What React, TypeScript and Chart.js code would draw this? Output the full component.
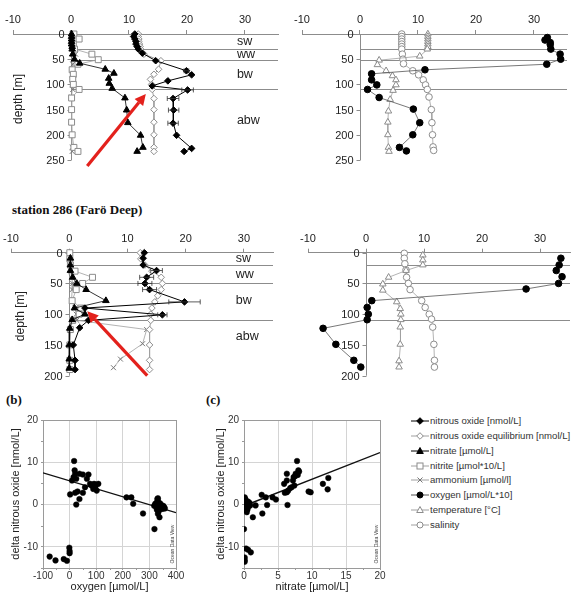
import React, { useEffect, useRef } from "react";
import { Chart, registerables } from "chart.js";
Chart.register(...registerables);

const FONT = "'Liberation Sans', Arial, Helvetica, sans-serif";
const SERIF = "'Liberation Serif', 'Times New Roman', serif";
Chart.defaults.font.family = FONT;
Chart.defaults.color = "#222";

// ---------- shared ticks ----------
const profileXTicks = [-10, 0, 10, 20, 30];
const depthTicksTop = [0, 50, 100, 150, 200, 250];
const depthTicksMid = [0, 50, 100, 150, 200];
const layersTop = [30, 52, 110];
const layersMid = [20, 50, 110];
const layerNames = ["sw", "ww", "bw", "abw"];
const layerLabelDepthTop = [15, 41, 81, 171];
const layerLabelDepthMid = [10, 36, 77, 136];

// ---------- panel 1 (top left) ----------
const p1N2oDepth = [0, 5, 10, 15, 20, 25, 30, 38, 53, 73, 81, 93, 103, 111, 128, 151, 177, 201, 227, 233];
const p1N2o = [11.0, 10.8, 11.0, 11.2, 11.2, 11.4, 11.6, 12.3, 14.6, 19.9, 20.8, 16.7, 14.0, 20.1, 17.6, 17.7, 17.6, 18.2, 20.8, 19.5];
const p1N2oErr = [0, 0, 0, 0, 0, 0, 0, 0, 0, 0.4, 0, 0, 0, 1.0, 1.0, 0.9, 0.9, 0, 0, 0];
const p1EqDepth = [0, 5, 10, 15, 20, 25, 30, 40, 53, 70, 80, 90, 100, 110, 128, 150, 175, 200, 225, 233];
const p1Eq = [11.6, 11.6, 11.7, 11.7, 11.8, 11.9, 12.0, 12.6, 15.5, 15.1, 14.3, 13.7, 13.9, 14.0, 14.3, 14.3, 14.3, 14.3, 14.3, 14.3];
const p1NitrateDepth = [0, 5, 10, 15, 20, 25, 30, 40, 50, 58, 70, 78, 88, 98, 108, 127, 151, 176, 201, 225, 233];
const p1Nitrate = [0.1, 0.1, 0.1, 0.1, 0.1, 0.2, 0.2, 0.3, 0.6, 1.5, 5.9, 7.4, 6.5, 6.6, 7.1, 9.3, 9.6, 9.8, 12.0, 12.4, 11.4];
const p1NitriteDepth = [0, 10, 20, 30, 40, 51, 60, 71, 80, 90, 100, 110, 127, 150, 175, 200, 225, 233];
const p1Nitrite = [0.5, 1.4, 0.4, 0.6, 3.6, 4.7, 1.2, 0.2, 0.4, 0.3, 0.4, 1.4, 0.1, 0.1, 0.1, 0.2, 0.5, 1.2];
const p1AmmoniumDepth = [0, 10, 20, 30, 40, 50, 60, 70, 80, 90, 100, 110, 125, 150, 175, 200, 225, 233];
const p1Ammonium = [0.2, 0.2, 0.2, 0.3, 0.8, 0.4, 0.3, 0.2, 0.2, 0.2, 0.2, 0.3, 0.1, 0.1, 0.1, 0.1, 0.2, 0.2];

// ---------- panel 2 (top right) ----------
const p2OxyDepth = [7, 12, 17, 21, 30, 40, 50, 60, 71, 79, 91, 101, 110, 126, 149, 176, 200, 225, 232];
const p2Oxy = [32.3, 31.9, 32.8, 32.8, 32.9, 34.5, 34.6, 32.2, 11.2, 2.0, 2.0, 2.9, 1.3, 3.3, 9.2, 10.3, 9.1, 6.8, 8.0];
const p2TempDepth = [0, 5, 10, 15, 20, 25, 30, 44, 52, 61, 73, 83, 91, 101, 112, 130, 153, 175, 200, 225, 233];
const p2Temp = [11.7, 11.7, 11.7, 11.7, 11.7, 11.7, 11.6, 10.3, 3.3, 3.0, 4.5, 5.6, 6.2, 6.2, 5.7, 5.2, 4.9, 4.8, 4.8, 4.9, 5.0];
const p2SalDepth = [0, 5, 10, 15, 20, 25, 30, 40, 50, 59, 73, 81, 91, 101, 110, 125, 150, 176, 200, 224, 231];
const p2Sal = [7.2, 7.2, 7.2, 7.2, 7.2, 7.2, 7.2, 7.3, 7.4, 7.5, 9.1, 10.1, 10.9, 11.3, 11.6, 11.9, 12.3, 12.4, 12.5, 12.6, 12.7];

// ---------- panel 3 (station 286, left) ----------
const p3N2oDepth = [0, 9, 20, 29, 40, 50, 60, 80, 90, 101, 110, 122, 150, 175, 190];
const p3N2o = [12.9, 12.7, 12.7, 15.0, 13.3, 13.0, 13.8, 19.8, 2.7, 16.0, 3.3, 1.8, 0.7, 1.0, 1.0];
const p3N2oErr = [0, 0, 0, 1.0, 1.2, 1.2, 1.2, 2.7, 0, 0.8, 0, 0, 0, 0, 0];
const p3EqDepth = [0, 10, 20, 30, 40, 50, 60, 70, 80, 90, 100, 110, 125, 150, 175, 190];
const p3Eq = [12.2, 12.3, 13.0, 14.2, 15.8, 16.0, 15.8, 15.2, 14.7, 14.2, 14.0, 14.0, 13.8, 13.8, 13.8, 13.8];
const p3NitrateDepth = [9, 20, 29, 40, 50, 60, 78, 90, 100, 109, 123, 150, 173, 188];
const p3Nitrate = [0.2, 0.2, 0.2, 0.6, 1.3, 2.9, 6.3, 0.9, 2.7, 0.5, 0.1, 0.0, 0.0, 0.0];
const p3NitriteDepth = [0, 10, 20, 30, 40, 50, 60, 78, 90, 100, 110, 125, 150, 175, 190];
const p3Nitrite = [0.1, 0.1, 0.2, 1.0, 4.0, 2.3, 1.2, 0.5, 2.0, 1.7, 0.6, 0.2, 0.1, 0.1, 0.1];
const p3AmmoniumDepth = [0, 10, 20, 30, 40, 50, 60, 78, 90, 100, 110, 125, 148, 173, 187];
const p3Ammonium = [0.2, 0.2, 0.2, 0.3, 0.4, 0.6, 0.5, 0.4, 1.0, 1.2, 1.3, 13.3, 12.6, 8.8, 7.6];

// ---------- panel 4 (station 286, right) ----------
const p4OxyDepth = [9, 20, 29, 39, 50, 59, 78, 89, 100, 109, 123, 149, 175, 186];
const p4Oxy = [33.6, 33.3, 32.8, 33.8, 33.2, 27.6, 1.0, 0.2, 0.4, 0.2, -7.4, -5.2, -2.1, -0.9];
const p4TempDepth = [4, 12, 20, 29, 40, 51, 61, 80, 91, 100, 109, 121, 149, 176, 186];
const p4Temp = [9.8, 9.8, 9.8, 6.9, 3.9, 2.9, 2.9, 5.3, 5.9, 6.0, 6.0, 5.9, 5.9, 5.7, 5.7];
const p4SalDepth = [1, 9, 18, 28, 40, 50, 60, 78, 89, 100, 108, 121, 149, 175, 186];
const p4Sal = [6.6, 6.6, 6.7, 6.9, 7.0, 7.3, 7.6, 9.6, 10.2, 10.9, 11.3, 11.5, 11.7, 11.8, 11.8];

// ---------- scatter (b): oxygen vs delta N2O ----------
const bOxygen = [17, 19, 21, 15, 9, 25, 37, 50, 71, 65, 77, 83, 92, 99, 108, 89, 102, 96, 58, 50, 30, 21, 2, 37, 25, 214, 232, 239, 276, 319, 332, 338, 332, -1, 0, 0, -75, -53, -22, -10,
  318, 322, 325, 328, 330, 332, 335, 338, 340, 342, 345, 348, 350, 355, 330, 328, 335, 345, 352, 358, 340];
const bDeltaN2o = [10.3, 8.1, 7.3, 6.5, 5.7, 6.1, 7.3, 7.1, 7.1, 6.1, 4.9, 4.5, 4.9, 4.7, 4.9, 3.7, 3.3, 4.1, 4.1, 2.8, 3.1, 2.8, 2.4, 1.3, 0.0, 1.7, 1.7, 0.2, -2.1, -5.8, 1.5, -3.0, -2.2, -10.2, -11.0, -11.5, -12.3, -13.2, -12.9, -13.3,
  -0.3, 0.2, -0.5, 0.5, -0.2, 0.8, 0.0, -0.8, 0.3, -0.4, -0.1, -0.7, -1.0, -0.6, 1.3, -1.2, -1.6, -1.0, -0.3, -0.9, -0.2];
const bRegX = [-100, 400];
const bRegY = [7.5, -1.9];

// ---------- scatter (c): nitrate vs delta N2O ----------
const cNitrate = [7.8, 8.0, 7.6, 7.5, 7.3, 7.2, 6.3, 6.3, 5.9, 7.0, 6.8, 6.5, 6.3, 6.0, 6.4, 7.4, 9.5, 9.8, 11.6, 12.3, 12.4, 2.6, 3.2, 4.2, 4.7, 3.4, 2.7, 1.7, 1.3, 0.0, 8.1, 7.9,
  0.1, 0.3, 0.4, 0.5, 0.6, 0.5, 0.4, 0.8, 0.3, 0.6, 0.9, 0.2, 0.1, 0.3, 0.6, 1.0, 0.1, 0.1, 0.1];
const cDeltaN2o = [10.3, 8.1, 7.3, 6.7, 6.5, 5.7, 7.3, 5.7, 4.9, 4.1, 3.9, 3.3, 2.9, 2.8, -0.1, 4.5, 3.1, 2.9, 4.9, 3.6, 6.3, 2.3, 1.7, 1.7, 1.2, -0.1, -2.1, -0.2, -3.0, -5.8, 7.8, 7.0,
  1.7, 0.9, 0.4, -0.1, -0.6, -1.2, -1.8, 0.4, -0.4, 0.7, -0.2, 1.3, -1.0, -10.4, -10.7, -11.3, -12.5, -13.1, -13.5];
const cRegX = [0.8, 20];
const cRegY = [0.2, 12.3];

// ---------- legend ----------
const legendKeys = ["n2o", "eq", "nitrate", "nitrite", "ammonium", "oxygen", "temp", "sal"];
const legendTexts = [
  "nitrous oxide [nmol/L]",
  "nitrous oxide equilibrium [nmol/L]",
  "nitrate [µmol/L]",
  "nitrite [µmol*10/L]",
  "ammonium [µmol/l]",
  "oxygen [µmol/L*10]",
  "temperature [°C]",
  "salinity",
];

// ---------- styles ----------
const STYLES: any = {
  n2o: { ps: "rectRot", r: 3.3, fill: "#000", stroke: "#000", line: "#000", lw: 1 },
  eq: { ps: "rectRot", r: 3.3, fill: "#fff", stroke: "#8c8c8c", line: "#a0a0a0", lw: 1 },
  nitrate: { ps: "triangle", r: 3.8, fill: "#000", stroke: "#000", line: "#000", lw: 0.8 },
  nitrite: { ps: "rect", r: 4.2, fill: "#fff", stroke: "#8c8c8c", line: "#a0a0a0", lw: 0.8 },
  ammonium: { ps: "crossRot", r: 3.5, fill: "#777", stroke: "#777", line: "#a0a0a0", lw: 0.8 },
  oxygen: { ps: "circle", r: 3.3, fill: "#000", stroke: "#000", line: "#555", lw: 0.8 },
  temp: { ps: "triangle", r: 3.8, fill: "#fff", stroke: "#8c8c8c", line: "#a0a0a0", lw: 0.8 },
  sal: { ps: "circle", r: 3.3, fill: "#fff", stroke: "#8c8c8c", line: "#a0a0a0", lw: 0.8 },
};

function series(kind: string, depths: number[], values: number[], errors?: number[]) {
  const s = STYLES[kind];
  return {
    data: depths.map((d, i) => ({ x: values[i], y: d })),
    showLine: true,
    borderColor: s.line,
    borderWidth: s.lw,
    pointStyle: s.ps,
    pointRadius: s.r,
    pointBackgroundColor: s.fill,
    pointBorderColor: s.stroke,
    pointBorderWidth: 1,
    clip: false,
    errorBars: errors,
  };
}

function strokeLine(ctx: any, x1: number, y1: number, x2: number, y2: number) {
  ctx.beginPath();
  ctx.moveTo(x1, y1);
  ctx.lineTo(x2, y2);
  ctx.stroke();
}

const decor = {
  id: "decor",
  beforeDatasetsDraw(chart: any, _a: any, o: any) {
    const { ctx, chartArea: ca } = chart;
    const xs = chart.scales.x;
    const ys = chart.scales.y;
    ctx.save();
    if (o.kind === "profile") {
      const x0 = Math.round(xs.getPixelForValue(0)) + 0.5;
      ctx.strokeStyle = "#8c8c8c";
      ctx.lineWidth = 1;
      for (const d of o.layers) {
        const y = Math.round(ys.getPixelForValue(d)) + 0.5;
        strokeLine(ctx, x0, y, ca.right, y);
      }
      const yb = ys.getPixelForValue(o.yTicks[o.yTicks.length - 1]);
      strokeLine(ctx, x0, ca.top, x0, yb);
      ctx.fillStyle = "#222";
      ctx.font = `11px ${FONT}`;
      ctx.textAlign = "right";
      ctx.textBaseline = "middle";
      for (const v of o.yTicks) {
        const y = Math.round(ys.getPixelForValue(v)) + 0.5;
        strokeLine(ctx, x0 - 4, y, x0, y);
        ctx.fillText(String(v), x0 - 7, y + 0.5);
      }
      if (o.layerLabels) {
        ctx.font = `12.5px ${FONT}`;
        ctx.textAlign = "left";
        o.layerLabels.forEach((t: string, i: number) => {
          ctx.fillText(t, xs.getPixelForValue(28.6), ys.getPixelForValue(o.layerLabelDepths[i]));
        });
      }
      if (o.yTitle) {
        ctx.save();
        ctx.translate(o.yTitleX, (ca.top + ca.bottom) / 2 + 2);
        ctx.rotate(-Math.PI / 2);
        ctx.font = `12px ${FONT}`;
        ctx.textAlign = "center";
        ctx.textBaseline = "middle";
        ctx.fillText(o.yTitle, 0, 0);
        ctx.restore();
      }
    } else if (o.kind === "scatter") {
      ctx.strokeStyle = "#9a9a9a";
      ctx.lineWidth = 1;
      ctx.strokeRect(Math.round(ca.left) + 0.5, Math.round(ca.top) + 0.5, Math.round(ca.right - ca.left), Math.round(ca.bottom - ca.top));
      for (const v of o.minorX) {
        const x = Math.round(xs.getPixelForValue(v)) + 0.5;
        strokeLine(ctx, x, ca.bottom, x, ca.bottom + 2);
      }
      for (const v of o.minorY) {
        const y = Math.round(ys.getPixelForValue(v)) + 0.5;
        strokeLine(ctx, ca.left - 2, y, ca.left, y);
      }
    }
    ctx.restore();
  },
  afterDatasetsDraw(chart: any, _a: any, o: any) {
    const { ctx, chartArea: ca } = chart;
    const xs = chart.scales.x;
    const ys = chart.scales.y;
    ctx.save();
    chart.data.datasets.forEach((ds: any) => {
      if (!ds.errorBars) return;
      ctx.strokeStyle = "#333";
      ctx.lineWidth = 0.8;
      ds.data.forEach((p: any, i: number) => {
        const e = ds.errorBars[i];
        if (!e) return;
        const y = ys.getPixelForValue(p.y);
        const x1 = xs.getPixelForValue(p.x - e);
        const x2 = xs.getPixelForValue(p.x + e);
        strokeLine(ctx, x1, y, x2, y);
        strokeLine(ctx, x1, y - 2.5, x1, y + 2.5);
        strokeLine(ctx, x2, y - 2.5, x2, y + 2.5);
      });
    });
    if (o.arrow) {
      const [tx, td, hx, hd] = o.arrow;
      const x1 = xs.getPixelForValue(tx), y1 = ys.getPixelForValue(td);
      const x2 = xs.getPixelForValue(hx), y2 = ys.getPixelForValue(hd);
      const ang = Math.atan2(y2 - y1, x2 - x1);
      const hl = 11, hw = 5.5;
      const bx = x2 - hl * Math.cos(ang), by = y2 - hl * Math.sin(ang);
      ctx.strokeStyle = "#e3211c";
      ctx.fillStyle = "#e3211c";
      ctx.lineWidth = 3.2;
      ctx.lineCap = "butt";
      strokeLine(ctx, x1, y1, bx, by);
      ctx.beginPath();
      ctx.moveTo(x2, y2);
      ctx.lineTo(bx + hw * Math.sin(ang), by - hw * Math.cos(ang));
      ctx.lineTo(bx - hw * Math.sin(ang), by + hw * Math.cos(ang));
      ctx.closePath();
      ctx.fill();
    }
    if (o.kind === "scatter") {
      ctx.save();
      ctx.translate(ca.right - 3.5, ca.bottom - 24);
      ctx.rotate(-Math.PI / 2);
      ctx.font = `5px ${FONT}`;
      ctx.fillStyle = "#444";
      ctx.textAlign = "center";
      ctx.textBaseline = "middle";
      ctx.fillText("Ocean Data View", 0, 0);
      ctx.restore();
    }
    ctx.restore();
  },
};

function profileConfig(p: any) {
  return {
    type: "scatter",
    data: { datasets: p.datasets },
    plugins: [decor],
    options: {
      animation: false,
      responsive: false,
      events: [],
      layout: { padding: p.padding },
      plugins: {
        legend: { display: false },
        tooltip: { enabled: false },
        decor: {
          kind: "profile",
          layers: p.layers,
          yTicks: p.yTicks,
          layerLabels: p.layerLabels,
          layerLabelDepths: p.layerLabelDepths,
          yTitle: p.yTitle,
          yTitleX: p.yTitleX,
          arrow: p.arrow,
        },
      },
      scales: {
        x: {
          type: "linear",
          position: "top",
          min: -10,
          max: p.xMax,
          afterBuildTicks: (s: any) => {
            s.ticks = profileXTicks.map((v) => ({ value: v }));
          },
          afterFit: (s: any) => {
            s.height = 21;
          },
          grid: { drawOnChartArea: false, drawTicks: true, tickLength: 4, color: "#8c8c8c" },
          border: { display: true, color: "#8c8c8c", width: 1 },
          ticks: { padding: 3, font: { size: 11 }, color: "#222", maxRotation: 0 },
        },
        y: {
          type: "linear",
          display: false,
          reverse: true,
          min: 0,
          max: p.yMax,
        },
      },
    },
  };
}

function scatterConfig(p: any) {
  return {
    type: "scatter",
    data: {
      datasets: [
        {
          data: p.xs.map((x: number, i: number) => ({ x, y: p.ys[i] })),
          pointRadius: 2.8,
          pointBackgroundColor: "#000",
          pointBorderColor: "#000",
          pointBorderWidth: 0.5,
        },
        {
          data: p.regX.map((x: number, i: number) => ({ x, y: p.regY[i] })),
          showLine: true,
          pointRadius: 0,
          borderColor: "#111",
          borderWidth: 1.4,
        },
      ],
    },
    plugins: [decor],
    options: {
      animation: false,
      responsive: false,
      events: [],
      layout: { padding: p.padding },
      plugins: {
        legend: { display: false },
        tooltip: { enabled: false },
        decor: { kind: "scatter", minorX: p.minorX, minorY: p.minorY },
      },
      scales: {
        x: {
          type: "linear",
          min: p.xMin,
          max: p.xMax,
          afterBuildTicks: (s: any) => {
            s.ticks = p.xTicks.map((v: number) => ({ value: v }));
          },
          afterFit: (s: any) => {
            s.height = 28;
          },
          grid: { color: "#d4d4d4", tickColor: "#9a9a9a", tickLength: 2 },
          border: { display: true, color: "#9a9a9a" },
          ticks: { padding: 0, font: { size: 10 }, color: "#333", maxRotation: 0 },
          title: { display: true, text: p.xTitle, font: { size: 11 }, color: "#222", padding: { top: 0, bottom: 2.5 } },
        },
        y: {
          type: "linear",
          min: -15,
          max: 20,
          afterBuildTicks: (s: any) => {
            s.ticks = [-10, 0, 10, 20].map((v) => ({ value: v }));
          },
          afterFit: (s: any) => {
            s.width = p.yAxisWidth;
          },
          grid: { color: "#d4d4d4", tickColor: "#9a9a9a", tickLength: 2 },
          border: { display: true, color: "#9a9a9a" },
          ticks: { padding: 3, font: { size: 10 }, color: "#333" },
          title: {
            display: true,
            text: "delta nitrous oxide [nmol/L]",
            font: { size: 11 },
            color: "#222",
            padding: { top: p.yTitlePad, bottom: 0 },
          },
        },
      },
    },
  };
}

function ChartBox({ left, top, width, height, make }: any) {
  const ref = useRef<HTMLCanvasElement | null>(null);
  useEffect(() => {
    const chart = new Chart(ref.current as any, make() as any);
    return () => chart.destroy();
  }, []);
  return (
    <canvas
      ref={ref}
      width={width}
      height={height}
      style={{ position: "absolute", left, top, width, height }}
    />
  );
}

function LegendIcon({ kind }: { kind: string }) {
  const s = STYLES[kind];
  const cx = 9, cy = 5;
  let marker: any = null;
  if (s.ps === "rectRot") marker = <polygon points={`${cx},${cy - 3.3} ${cx + 3.3},${cy} ${cx},${cy + 3.3} ${cx - 3.3},${cy}`} fill={s.fill} stroke={s.stroke} strokeWidth={1} />;
  else if (s.ps === "triangle") marker = <polygon points={`${cx},${cy - 3.5} ${cx + 3.3},${cy + 2.5} ${cx - 3.3},${cy + 2.5}`} fill={s.fill} stroke={s.stroke} strokeWidth={1} />;
  else if (s.ps === "rect") marker = <rect x={cx - 3} y={cy - 3} width={6} height={6} fill={s.fill} stroke={s.stroke} strokeWidth={1} />;
  else if (s.ps === "circle") marker = <circle cx={cx} cy={cy} r={3} fill={s.fill} stroke={s.stroke} strokeWidth={1} />;
  else marker = (
    <g stroke={s.stroke} strokeWidth={1}>
      <line x1={cx - 2.5} y1={cy - 2.5} x2={cx + 2.5} y2={cy + 2.5} />
      <line x1={cx - 2.5} y1={cy + 2.5} x2={cx + 2.5} y2={cy - 2.5} />
    </g>
  );
  return (
    <svg width={18} height={10} style={{ position: "absolute", left: 0, top: 0 }}>
      <line x1={0} y1={cy} x2={18} y2={cy} stroke={s.line} strokeWidth={1} />
      {marker}
    </svg>
  );
}

export default function App() {
  const p1 = () =>
    profileConfig({
      datasets: [
        series("n2o", p1N2oDepth, p1N2o, p1N2oErr),
        series("nitrate", p1NitrateDepth, p1Nitrate),
        series("eq", p1EqDepth, p1Eq),
        series("nitrite", p1NitriteDepth, p1Nitrite),
        series("ammonium", p1AmmoniumDepth, p1Ammonium),
      ],
      padding: { left: 13, right: 12, top: 13, bottom: 15 },
      xMax: 35.69,
      yMax: 250,
      yTicks: depthTicksTop,
      layers: layersTop,
      layerLabels: layerNames,
      layerLabelDepths: layerLabelDepthTop,
      yTitle: "depth [m]",
      yTitleX: 19,
      arrow: [2.8, 262, 12.9, 119],
    });
  const p2 = () =>
    profileConfig({
      datasets: [
        series("oxygen", p2OxyDepth, p2Oxy),
        series("temp", p2TempDepth, p2Temp),
        series("sal", p2SalDepth, p2Sal),
      ],
      padding: { left: 12, right: 10, top: 13, bottom: 15 },
      xMax: 35.69,
      yMax: 250,
      yTicks: depthTicksTop,
      layers: layersTop,
    });
  const p3 = () =>
    profileConfig({
      datasets: [
        series("n2o", p3N2oDepth, p3N2o, p3N2oErr),
        series("nitrate", p3NitrateDepth, p3Nitrate),
        series("eq", p3EqDepth, p3Eq),
        series("nitrite", p3NitriteDepth, p3Nitrite),
        series("ammonium", p3AmmoniumDepth, p3Ammonium),
      ],
      padding: { left: 11, right: 17, top: 16.7, bottom: 9.3 },
      xMax: 35,
      yMax: 200,
      yTicks: depthTicksMid,
      layers: layersMid,
      layerLabels: layerNames,
      layerLabelDepths: layerLabelDepthMid,
      yTitle: "depth [m]",
      yTitleX: 21,
      arrow: [13.4, 200, 3.1, 95],
    });
  const p4 = () =>
    profileConfig({
      datasets: [
        series("oxygen", p4OxyDepth, p4Oxy),
        series("temp", p4TempDepth, p4Temp),
        series("sal", p4SalDepth, p4Sal),
      ],
      padding: { left: 18, right: 7, top: 16.7, bottom: 9.3 },
      xMax: 35.17,
      yMax: 200,
      yTicks: depthTicksMid,
      layers: layersMid,
    });
  const sb = () =>
    scatterConfig({
      xs: bOxygen,
      ys: bDeltaN2o,
      regX: bRegX,
      regY: bRegY,
      xMin: -100,
      xMax: 400,
      xTicks: [-100, 0, 100, 200, 300, 400],
      minorX: [-50, 50, 150, 250, 350],
      minorY: [-15, -5, 5, 15],
      xTitle: "oxygen [µmol/L]",
      padding: { left: 0, right: 19, top: 25, bottom: 0 },
      yAxisWidth: 43,
      yTitlePad: 9,
    });
  const sc = () =>
    scatterConfig({
      xs: cNitrate,
      ys: cDeltaN2o,
      regX: cRegX,
      regY: cRegY,
      xMin: 0,
      xMax: 20,
      xTicks: [0, 5, 10, 15, 20],
      minorX: [2.5, 7.5, 12.5, 17.5],
      minorY: [-15, -5, 5, 15],
      xTitle: "nitrate [µmol/L]",
      padding: { left: 0, right: 10, top: 25, bottom: 0 },
      yAxisWidth: 49,
      yTitlePad: 19,
    });

  return (
    <div style={{ position: "absolute", left: 0, top: 0, width: 577, height: 596, background: "#fff", overflow: "hidden" }}>
      <ChartBox left={0} top={0} width={290} height={175} make={p1} />
      <ChartBox left={290} top={0} width={287} height={175} make={p2} />
      <div style={{ position: "absolute", left: 12, top: 202, font: `bold 13px ${SERIF}`, color: "#111", whiteSpace: "nowrap" }}>
        station 286 (Farö Deep)
      </div>
      <ChartBox left={0} top={215} width={290} height={170} make={p3} />
      <ChartBox left={290} top={215} width={287} height={170} make={p4} />
      <div style={{ position: "absolute", left: 6, top: 392, font: `bold 13px ${SERIF}`, color: "#111" }}>(b)</div>
      <div style={{ position: "absolute", left: 206, top: 392, font: `bold 13px ${SERIF}`, color: "#111" }}>(c)</div>
      <ChartBox left={0} top={395} width={195} height={201} make={sb} />
      <ChartBox left={195} top={395} width={195} height={201} make={sc} />
      {legendTexts.map((t, i) => (
        <div key={t} style={{ position: "absolute", left: 411, top: 416 + i * 14.85, height: 12, whiteSpace: "nowrap" }}>
          <LegendIcon kind={legendKeys[i]} />
          <span style={{ position: "absolute", left: 19, top: -1, font: `9.6px ${FONT}`, color: "#333", lineHeight: "12px" }}>{t}</span>
        </div>
      ))}
    </div>
  );
}
